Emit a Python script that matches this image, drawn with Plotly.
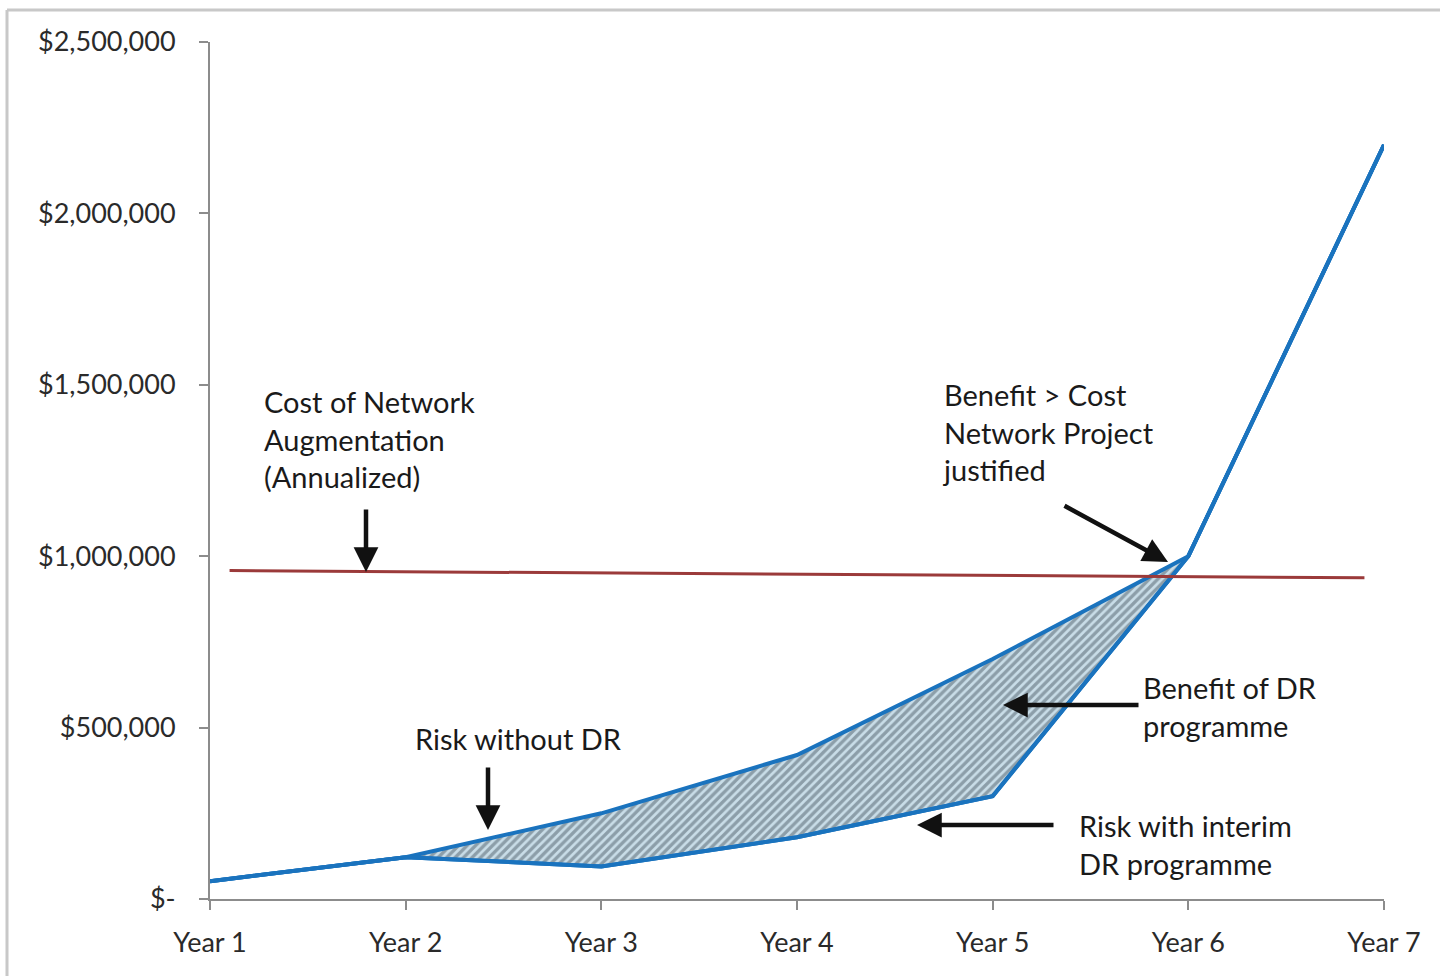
import plotly.graph_objects as go

# ---- data ----
years = [1, 2, 3, 4, 5, 6, 7]
year_labels = ["Year 1", "Year 2", "Year 3", "Year 4", "Year 5", "Year 6", "Year 7"]
risk_without_dr = [52000, 122000, 250000, 420000, 700000, 1000000, 2200000]
risk_with_interim_dr = [52000, 122000, 95000, 180000, 300000, 1000000, 2200000]
cost_x = [1.1, 6.9]
cost_augmentation = [958000, 937000]
y_tickvals = [0, 500000, 1000000, 1500000, 2000000, 2500000]
y_ticktext = ["$-", "$500,000", "$1,000,000", "$1,500,000", "$2,000,000", "$2,500,000"]

# pixel helpers for annotation placement
L, R, T, B = 210, 1384, 42, 899
def px(x):
    return 1 + (x - L) / (R - L) * 6
def py(y):
    return (B - y) / (B - T) * 2500000

BLUE = "#1a73be"
RED = "#9b3a3a"
FONT = "Lato"

fig = go.Figure()
fig.add_trace(go.Scatter(x=years, y=risk_with_interim_dr, mode="lines",
                         line=dict(color=BLUE, width=4), showlegend=False))
fig.add_trace(go.Scatter(x=years, y=risk_without_dr, mode="lines",
                         line=dict(color=BLUE, width=4), fill="tonexty",
                         fillcolor="rgba(205,222,232,1)",
                         fillpattern=dict(shape="/", fgcolor="#4f5f6a", bgcolor="#c9dde8",
                                          size=6, solidity=0.55, fillmode="overlay"),
                         showlegend=False))
# redraw lines on top of fill
fig.add_trace(go.Scatter(x=years, y=risk_with_interim_dr, mode="lines",
                         line=dict(color=BLUE, width=4), showlegend=False))
fig.add_trace(go.Scatter(x=cost_x, y=cost_augmentation, mode="lines",
                         line=dict(color=RED, width=3), showlegend=False))

tf = dict(family=FONT, size=29, color="#1a1a1a")
texts = [
    ("Cost of Network<br>Augmentation<br>(Annualized)", 262, 382),
    ("Risk without DR", 413, 719),
    ("Benefit > Cost<br>Network Project<br>justified", 940, 375),
    ("Benefit of DR<br>programme", 1141, 668),
    ("Risk with interim<br>DR programme", 1077, 806),
]
for t, x, y in texts:
    fig.add_annotation(x=px(x), y=py(y), text=t, showarrow=False, xanchor="left",
                       yanchor="top", align="left", font=tf)

arrows = [
    # head(x,y), tail(x,y)
    ((366, 572), (366, 508)),
    ((488, 830), (488, 766)),
    ((1168, 562), (1063, 505)),
    ((1003, 705), (1140, 705)),
    ((917, 825), (1055, 825)),
]
for (hx, hy), (tx, ty) in arrows:
    fig.add_annotation(x=px(hx), y=py(hy), ax=px(tx), ay=py(ty), xref="x", yref="y",
                       axref="x", ayref="y", text="", showarrow=True, arrowhead=2,
                       arrowsize=1.1, arrowwidth=4.5, arrowcolor="#111111")

# frame lines of the picture
fig.add_shape(type="line", xref="paper", yref="paper", x0=(7 - L) / (R - L), x1=(7 - L) / (R - L),
              y0=(B - 990) / (B - T), y1=(B - 10) / (B - T), line=dict(color="#c8c8c8", width=3))
fig.add_shape(type="line", xref="paper", yref="paper", x0=(7 - L) / (R - L), x1=(1450 - L) / (R - L),
              y0=(B - 10) / (B - T), y1=(B - 10) / (B - T), line=dict(color="#c8c8c8", width=3))
# small extension of x axis line to the left
fig.add_shape(type="line", xref="paper", yref="paper", x0=(200 - L) / (R - L), x1=0,
              y0=0, y1=0, line=dict(color="#8c8c8c", width=2))

fig.update_xaxes(range=[1, 7], tickvals=years, ticktext=year_labels, showline=True,
                 linecolor="#8c8c8c", linewidth=2, ticks="outside", ticklen=9, tickwidth=2,
                 tickcolor="#8c8c8c", showgrid=False, zeroline=False,
                 tickfont=dict(family=FONT, size=27, color="#2a2a2a"), ticklabelstandoff=10)
fig.update_yaxes(range=[0, 2500000], tickvals=y_tickvals, ticktext=y_ticktext, showline=True,
                 linecolor="#8c8c8c", linewidth=2, ticks="outside", ticklen=9, tickwidth=2,
                 tickcolor="#8c8c8c", showgrid=False, zeroline=False,
                 tickfont=dict(family=FONT, size=27, color="#2a2a2a"), ticklabelstandoff=18)
fig.update_layout(width=1440, height=976, margin=dict(l=L, r=1440 - R, t=T, b=976 - B),
                  paper_bgcolor="white", plot_bgcolor="white")
fig.write_html("out.html")
